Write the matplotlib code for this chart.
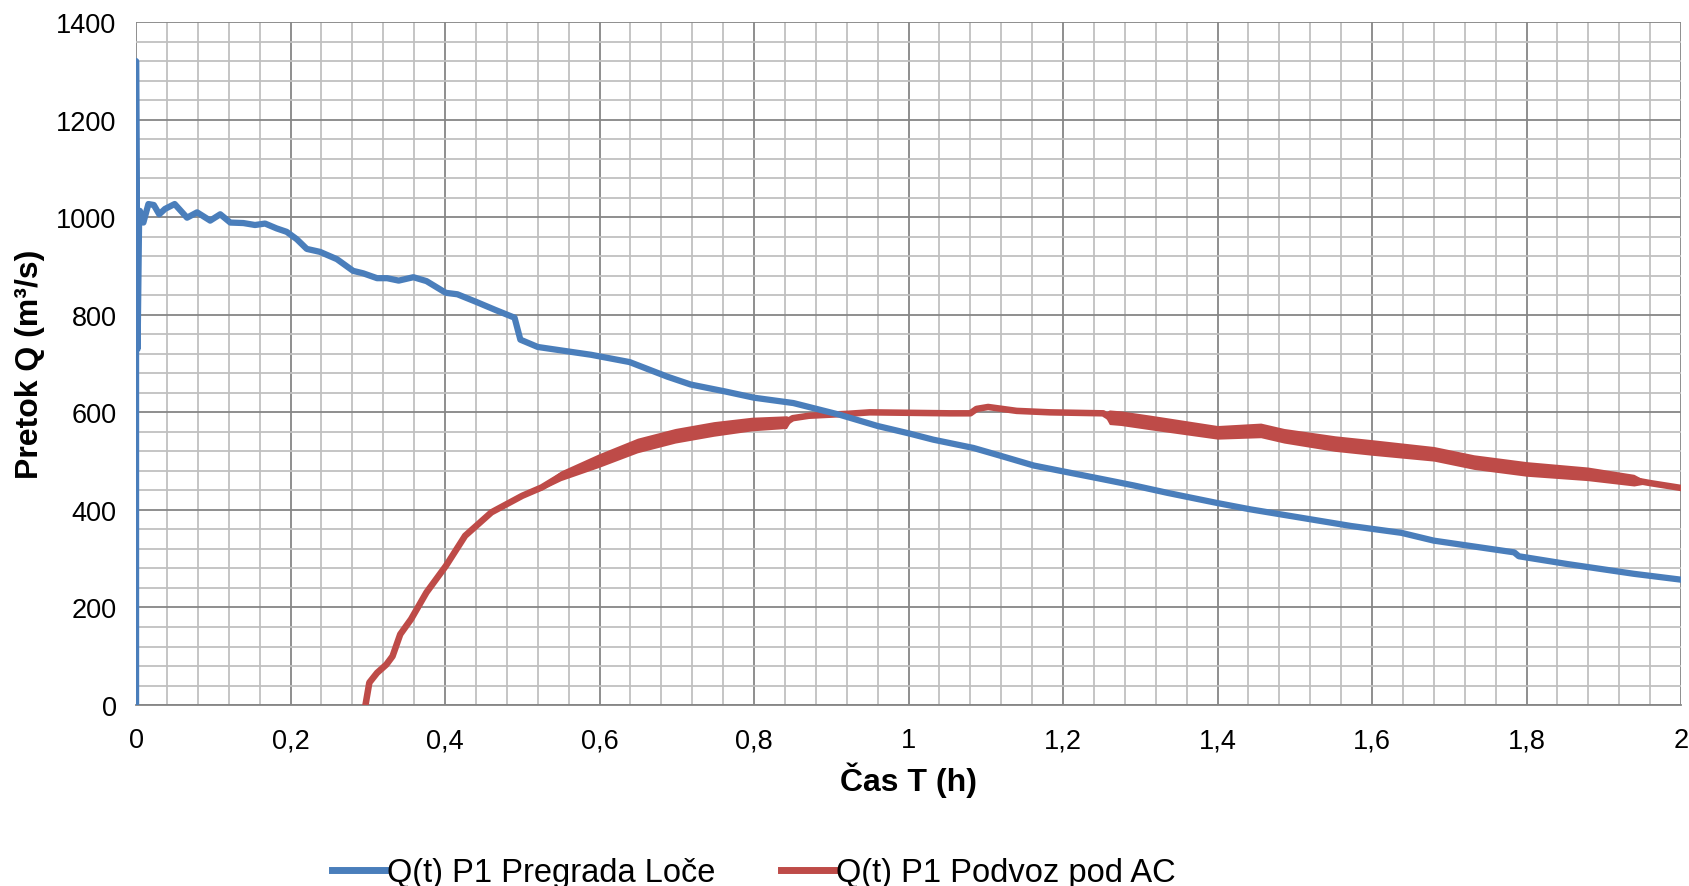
import numpy as np
import matplotlib
matplotlib.use("Agg")
import matplotlib.pyplot as plt
from matplotlib.ticker import MultipleLocator, FixedLocator, FixedFormatter
from matplotlib.lines import Line2D

plt.rcParams['font.family'] = ['Liberation Sans', 'DejaVu Sans']

# Q(t) P1 Pregrada Loče  (time in h, flow in m3/s)
blue_t = [0, 0, 0.002, 0.004, 0.005, 0.0095, 0.016, 0.023, 0.030, 0.0375, 0.050, 0.066,
          0.079, 0.096, 0.109, 0.122, 0.139, 0.154, 0.167, 0.182, 0.195, 0.208, 0.221,
          0.238, 0.260, 0.281, 0.294, 0.312, 0.325, 0.340, 0.359, 0.376, 0.401, 0.416,
          0.441, 0.465, 0.490, 0.4975, 0.520, 0.550, 0.589, 0.639, 0.688, 0.718, 0.762,
          0.800, 0.851, 0.886, 0.911, 0.960, 1.000, 1.032, 1.084, 1.119, 1.162, 1.200,
          1.248, 1.292, 1.335, 1.400, 1.443, 1.508, 1.573, 1.638, 1.680, 1.784, 1.790,
          1.853, 1.939, 2.000]
blue_q = [0, 1320, 730, 1000, 1013, 989, 1027, 1025, 1006, 1017, 1027, 999,
          1010, 993, 1006, 989, 988, 984, 987, 977, 970, 955, 935,
          929, 914, 890, 885, 875, 875, 870, 877, 869, 845, 842,
          826, 810, 794, 749, 734, 727, 718, 703, 673, 657, 643,
          630, 619, 605, 595, 572, 557, 544, 527, 511, 491, 479,
          464, 450, 435, 414, 401, 384, 367, 353, 337, 313, 305,
          289, 269, 257]

# Q(t) P1 Podvoz pod AC, with half-width of the noisy band
red_t = [0.297, 0.302, 0.312, 0.324, 0.332, 0.342, 0.356, 0.376, 0.401, 0.426, 0.460,
         0.500, 0.525, 0.550, 0.599, 0.649, 0.698, 0.748, 0.797, 0.842, 0.850, 0.871,
         0.921, 0.950, 1.054, 1.080, 1.088, 1.103, 1.140, 1.183, 1.252, 1.260, 1.275,
         1.314, 1.400, 1.456, 1.486, 1.552, 1.600, 1.680, 1.732, 1.800, 1.879, 1.939,
         1.960, 2.000]
red_q = [0, 46, 66, 83, 100, 145, 176, 231, 285, 347, 395,
         429, 446, 470, 501, 532, 552, 566, 576, 580, 588, 593,
         597, 600, 598, 598, 607, 611, 603, 600, 598, 590, 588,
         579, 559, 563, 552, 536, 528, 515, 498, 484, 474, 461,
         455, 445]
red_spread = [0, 0, 0, 0, 0, 0, 0, 0, 0, 0, 0,
              0, 5, 10, 14, 15, 15, 15, 14, 13, 0, 0,
              0, 0, 0, 0, 0, 0, 0, 0, 0, 15, 15,
              15, 14, 15, 15, 16, 16, 15, 15, 15, 14, 12,
              0, 0]

x_ticks = [0, 0.2, 0.4, 0.6, 0.8, 1.0, 1.2, 1.4, 1.6, 1.8, 2.0]
x_labels = ['0', '0,2', '0,4', '0,6', '0,8', '1', '1,2', '1,4', '1,6', '1,8', '2']

blue_c = '#4a7ebb'
red_c = '#be4b48'


def main():
    fig = plt.figure(figsize=(16.9, 8.87), dpi=100)
    ax = fig.add_axes([0.0805, 0.204, 0.9142, 0.770])

    ax.plot(blue_t, blue_q, color=blue_c, lw=4.5, solid_joinstyle='round',
            solid_capstyle='round', zorder=4)
    rt = np.array(red_t)
    rq = np.array(red_q)
    rs = np.array(red_spread)
    ax.fill_between(rt, rq - rs, rq + rs, color=red_c, lw=0, zorder=3)
    ax.plot(rt, rq, color=red_c, lw=4.7, solid_joinstyle='round',
            solid_capstyle='round', zorder=3)

    ax.set_xlim(0, 2)
    ax.set_ylim(0, 1400)
    ax.xaxis.set_major_locator(FixedLocator(x_ticks))
    ax.xaxis.set_major_formatter(FixedFormatter(x_labels))
    ax.xaxis.set_minor_locator(MultipleLocator(0.04))
    ax.yaxis.set_major_locator(MultipleLocator(200))
    ax.yaxis.set_minor_locator(MultipleLocator(40))
    ax.grid(which='major', color='#868686', lw=1.3, zorder=0)
    ax.grid(which='minor', color='#c0c0c0', lw=1.3, zorder=0)
    ax.set_axisbelow(True)
    ax.tick_params(which='both', length=0, labelsize=19.5)
    ax.tick_params(axis='x', pad=16)
    ax.tick_params(axis='y', pad=14)
    for side in ['top', 'right', 'left']:
        ax.spines[side].set_visible(False)
    ax.spines['bottom'].set_color('#868686')
    ax.spines['bottom'].set_linewidth(1.3)

    ax.set_xlabel('Čas T (h)', fontsize=23, fontweight='bold', labelpad=6)
    ax.set_ylabel('Pretok Q (m³/s)', fontsize=23, fontweight='bold', labelpad=8)

    handles = [Line2D([], [], color=blue_c, lw=5),
               Line2D([], [], color=red_c, lw=5)]
    fig.legend(handles, ['Q(t) P1 Pregrada Loče', 'Q(t) P1 Podvoz pod AC'],
               loc='center', bbox_to_anchor=(0.446, 0.015), ncol=2, frameon=False,
               fontsize=23.5, handlelength=1.65, handletextpad=0.05, columnspacing=2.0)

    fig.savefig('out.png', dpi=100)


if __name__ == "__main__":
    main()
